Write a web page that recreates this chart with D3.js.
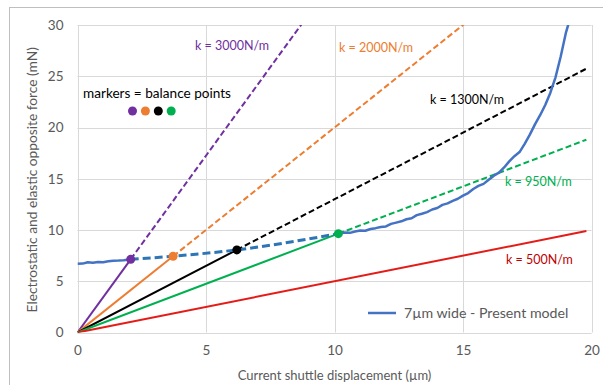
<!DOCTYPE html>
<html>
<head>
<meta charset="utf-8">
<script src="https://cdn.jsdelivr.net/npm/d3@7"></script>
<style>
  html, body { margin: 0; padding: 0; background: #fff; }
  svg { display: block; font-family: Lato, "Open Sans", sans-serif; }
</style>
</head>
<body>
<svg id="chart" width="603" height="385"></svg>
<script>
// Axis ticks
const xTicks = [0, 5, 10, 15, 20];
const yTicks = [0, 5, 10, 15, 20, 25, 30];

// Spring lines: force = slope * displacement (mN per µm)
const springLabels = ["k = 3000N/m", "k = 2000N/m", "k = 1300N/m", "k = 950N/m", "k = 500N/m"];
const springSlopes = [3.45, 2.0, 1.3, 0.95, 0.5];
const springColors = ["#7030a0", "#ed7d31", "#000000", "#00b050", "#e41b17"];
const labelColors  = ["#7030a0", "#ed7d31", "#000000", "#00b050", "#c00000"];
const springEndX   = [10, 16, 19.8, 19.8, 19.8];

// Balance points (x in µm, force in mN); the last spring has none
const balanceX = [2.07, 3.72, 6.2, 10.15];
const balanceY = [7.14, 7.44, 8.06, 9.64];

// Electrostatic force curve, 7µm wide model
const curveStartX = [0, 0.2, 0.4, 0.6, 0.8, 1.0, 1.2, 1.4, 1.6, 1.8, 2.07];
const curveStartY = [6.7, 6.72, 6.85, 6.8, 6.88, 6.86, 6.95, 7.0, 7.02, 7.06, 7.14];
const bridgeX = [2.07, 3.72, 6.2, 10.15];
const bridgeY = [7.14, 7.44, 8.06, 9.64];
const curveEndX = [10.15, 10.4, 10.6, 10.8, 11.0, 11.2, 11.4, 11.6, 11.8, 12.0, 12.2, 12.4, 12.6, 12.8, 13.0,
  13.2, 13.4, 13.6, 13.8, 14.0, 14.2, 14.4, 14.6, 14.8, 15.0, 15.2, 15.4, 15.6, 15.8, 16.0, 16.2, 16.4,
  16.6, 16.8, 17.0, 17.2, 17.4, 17.6, 17.8, 18.0, 18.2, 18.4, 18.6, 18.8, 19.0, 19.15];
const curveEndY = [9.64, 9.75, 9.72, 9.86, 9.95, 9.93, 10.1, 10.18, 10.3, 10.35, 10.6, 10.72, 10.85, 11.05, 11.15,
  11.45, 11.58, 11.75, 12.0, 12.15, 12.45, 12.6, 12.85, 13.05, 13.35, 13.6, 14.0, 14.3, 14.5, 14.9, 15.3, 15.6,
  16.1, 16.7, 17.2, 17.6, 18.4, 19.3, 20.3, 21.2, 22.2, 23.4, 24.9, 26.9, 29.2, 30.5];

const legendLabel = "7µm wide - Present model";
const xTitle = "Current shuttle displacement (µm)";
const yTitle = "Electrostatic and elastic opposite force (mN)";

const svg = d3.select("#chart");
const m = { left: 77.5, right: 591.5, top: 25, bottom: 332.5 };
const x = d3.scaleLinear().domain([0, 20]).range([m.left, m.right]);
const y = d3.scaleLinear().domain([0, 30]).range([m.bottom, m.top]);

// Outer frame
svg.append("rect").attr("x", 9.5).attr("y", 7.5).attr("width", 600).attr("height", 400)
  .attr("fill", "none").attr("stroke", "#bfbfbf").attr("stroke-width", 1);

// Grid
const grid = svg.append("g").attr("stroke", "#d9d9d9").attr("stroke-width", 1);
yTicks.forEach(t => grid.append("line").attr("x1", m.left).attr("x2", m.right)
  .attr("y1", Math.round(y(t)) + 0.5).attr("y2", Math.round(y(t)) + 0.5));
xTicks.forEach(t => grid.append("line").attr("y1", m.top).attr("y2", m.bottom)
  .attr("x1", Math.round(x(t)) + 0.5).attr("x2", Math.round(x(t)) + 0.5));

// Axes (labels only, lines hidden)
const xAxis = svg.append("g").attr("transform", `translate(0,${m.bottom})`)
  .call(d3.axisBottom(x).tickValues(xTicks).tickSize(0).tickPadding(13));
const yAxis = svg.append("g").attr("transform", `translate(${m.left},0)`)
  .call(d3.axisLeft(y).tickValues(yTicks).tickSize(0).tickPadding(14));
[xAxis, yAxis].forEach(a => {
  a.select(".domain").remove();
  a.selectAll("text").attr("fill", "#595959").style("font-size", "13.5px").style("font-family", "Lato, sans-serif");
});

svg.append("text").attr("x", (m.left + m.right) / 2).attr("y", 380).attr("text-anchor", "middle")
  .attr("fill", "#595959").style("font-size", "13px").text(xTitle);
svg.append("text").attr("transform", `translate(37,${(m.top + m.bottom) / 2 + 1}) rotate(-90)`)
  .attr("text-anchor", "middle").attr("fill", "#595959").style("font-size", "13.75px").text(yTitle);

// Clip to plot area
svg.append("clipPath").attr("id", "plot").append("rect")
  .attr("x", m.left).attr("y", m.top).attr("width", m.right - m.left).attr("height", m.bottom - m.top);
const plot = svg.append("g").attr("clip-path", "url(#plot)");

const line = d3.line().x(d => x(d[0])).y(d => y(d[1]));

// Spring lines: solid up to balance point, dashed beyond
springSlopes.forEach((k, i) => {
  const bx = i < balanceX.length ? balanceX[i] : springEndX[i];
  plot.append("path").attr("d", line([[0, 0], [bx, k * bx]]))
    .attr("fill", "none").attr("stroke", springColors[i]).attr("stroke-width", 2);
  if (i < balanceX.length) {
    plot.append("path").attr("d", line([[bx, k * bx], [springEndX[i], k * springEndX[i]]]))
      .attr("fill", "none").attr("stroke", springColors[i]).attr("stroke-width", 2)
      .attr("stroke-dasharray", "6,3");
  }
});

// Electrostatic force curve
const curveLine = d3.line().x(d => x(d[0])).y(d => y(d[1]));
plot.append("path").attr("d", curveLine(curveStartX.map((v, i) => [v, curveStartY[i]])))
  .attr("fill", "none").attr("stroke", "#4472c4").attr("stroke-width", 2.5).attr("stroke-linejoin", "round");
plot.append("path").attr("d", d3.line().x(d => x(d[0])).y(d => y(d[1])).curve(d3.curveMonotoneX)(bridgeX.map((v, i) => [v, bridgeY[i]])))
  .attr("fill", "none").attr("stroke", "#2e75b6").attr("stroke-width", 3).attr("stroke-dasharray", "8,4");
plot.append("path").attr("d", curveLine(curveEndX.map((v, i) => [v, curveEndY[i]])))
  .attr("fill", "none").attr("stroke", "#4472c4").attr("stroke-width", 2.5).attr("stroke-linejoin", "round");

// Balance point markers
balanceX.forEach((bx, i) => {
  plot.append("circle").attr("cx", x(bx)).attr("cy", y(balanceY[i])).attr("r", 4.5)
    .attr("fill", springColors[i]);
});

// Spring labels
const labelPos = [[195, 50], [339, 52], [430, 104], [505, 186], [506, 264]];
springLabels.forEach((t, i) => {
  svg.append("text").attr("x", labelPos[i][0]).attr("y", labelPos[i][1])
    .attr("fill", labelColors[i]).style("font-size", "12.5px").text(t);
});

// Marker note
svg.append("text").attr("x", 83).attr("y", 97.5).attr("fill", "#000").style("font-size", "13.6px")
  .text("markers = balance points");
springColors.slice(0, 4).forEach((c, i) => {
  svg.append("circle").attr("cx", 132.5 + i * 12.9).attr("cy", 111).attr("r", 4.5).attr("fill", c);
});

// Legend
svg.append("line").attr("x1", 368).attr("x2", 396).attr("y1", 313).attr("y2", 313)
  .attr("stroke", "#4472c4").attr("stroke-width", 2.5);
svg.append("text").attr("x", 404).attr("y", 318).attr("fill", "#595959").style("font-size", "14.2px")
  .text(legendLabel);
</script>
</body>
</html>
